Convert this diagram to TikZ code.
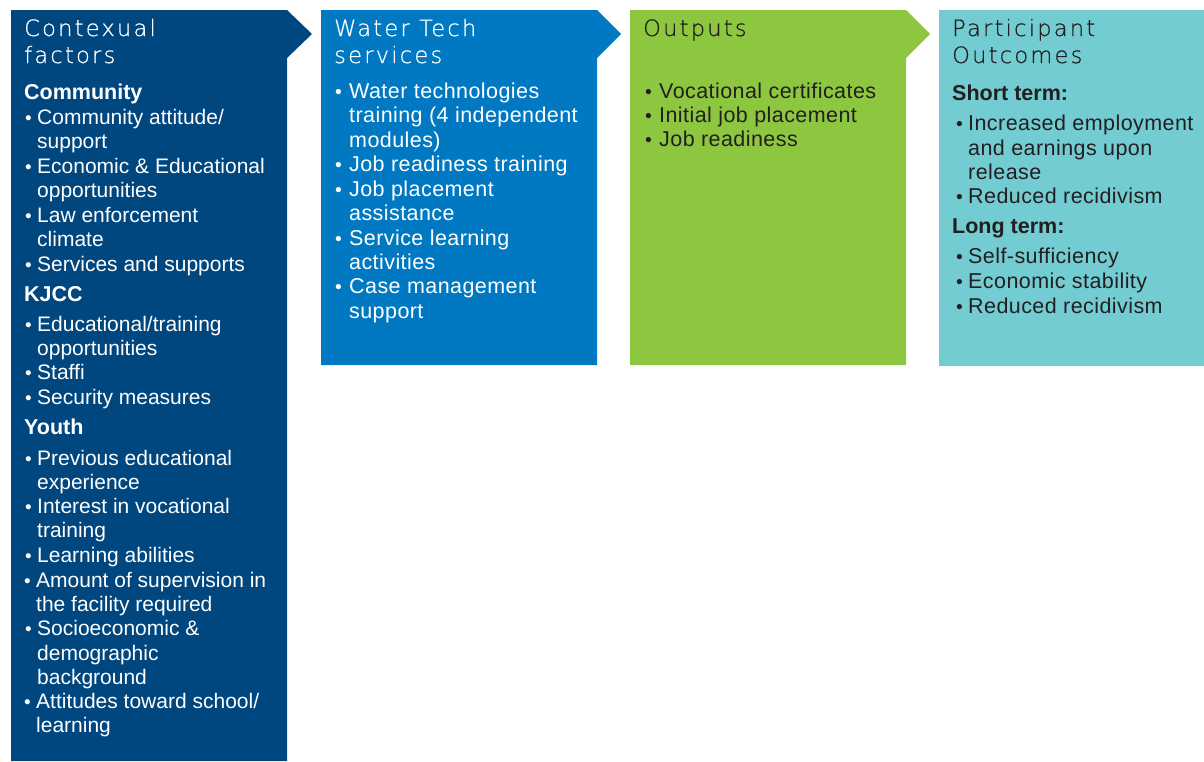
\documentclass[tikz,border=0pt]{standalone}
\usepackage{fontspec}
\setmainfont{Liberation Sans}
\newfontfamily\widefont[LetterSpace=2]{Liberation Sans}
\newfontfamily\hdrfont[LetterSpace=10,FakeBold=0.6]{DejaVu Sans ExtraLight}
\definecolor{navy}{HTML}{00467F}
\definecolor{wblue}{HTML}{0079C2}
\definecolor{lgreen}{HTML}{8DC63F}
\definecolor{teal}{HTML}{72CCD2}
\definecolor{dtext}{HTML}{231F20}
\tikzset{
  hdr/.style={anchor=base west, inner sep=0pt, font=\hdrfont\fontsize{22.5}{25}\selectfont},
  body/.style={anchor=base west, inner sep=0pt, font=\fontsize{21}{25}\selectfont},
  sub/.style={anchor=base west, inner sep=0pt, font=\bfseries\fontsize{21.5}{25}\selectfont},
  wide/.style={body/.style={anchor=base west, inner sep=0pt, font=\widefont\fontsize{21.5}{25}\selectfont}},
}
\newcommand\Li[4]{\node[body] (#1) at (#2,#3) {#4};}
\newcommand\Bu[5]{\node[body] (#1b) at (#2,#4) {\scalebox{0.9}{\textbullet}}; \node[body] (#1) at (#3,#4) {#5};}
\begin{document}
\begin{tikzpicture}[x=1pt,y=-1pt]
\useasboundingbox (0,0) rectangle (1204,761);
% shapes
\fill[navy]   (11,10) -- (287,10) -- (312,34) -- (287,58) -- (287,761) -- (11,761) -- cycle;
\fill[wblue]  (321,10) -- (597,10) -- (621,34) -- (597,58) -- (597,365) -- (321,365) -- cycle;
\fill[lgreen] (630,10) -- (906,10) -- (930,34) -- (906,58) -- (906,365) -- (630,365) -- cycle;
\fill[teal]   (939,10) -- (1204,10) -- (1204,366) -- (939,366) -- cycle;

% column 1
\begin{scope}[text=white]
\node[hdr] (h1a) at (24,36) {Contexual};
\node[hdr] (h1b) at (24,63) {factors};
\node[sub] (s1) at (24,99) {Community};
\Bu{a1}{25}{37}{124}{Community attitude/}
\Li{a1c}{37}{148}{support}
\Bu{a2}{25}{37}{173}{Economic \& Educational}
\Li{a2c}{37}{197}{opportunities}
\Bu{a3}{25}{37}{222}{Law enforcement}
\Li{a3c}{37}{246}{climate}
\Bu{a4}{25}{37}{271}{Services and supports}
\node[sub] (s2) at (24,301) {KJCC};
\Bu{a5}{25}{37}{331}{Educational/training}
\Li{a5c}{37}{355}{opportunities}
\Bu{a6}{25}{37}{379}{Staffi}
\Bu{a7}{25}{37}{404}{Security measures}
\node[sub] (s3) at (24,434) {Youth};
\Bu{a8}{25}{37}{465}{Previous educational}
\Li{a8c}{37}{489}{experience}
\Bu{a9}{25}{37}{513}{Interest in vocational}
\Li{a9c}{37}{537}{training}
\Bu{a10}{25}{37}{562}{Learning abilities}
\Bu{a11}{24}{36}{587}{Amount of supervision in}
\Li{a11c}{36}{611}{the facility required}
\Bu{a12}{25}{37}{635}{Socioeconomic \&}
\Li{a12c}{37}{660}{demographic}
\Li{a12d}{37}{684}{background}
\Bu{a13}{24}{36}{708}{Attitudes toward school/}
\Li{a13c}{36}{732}{learning}
\end{scope}

% column 2
\begin{scope}[text=white,wide]
\node[hdr] (h2a) at (334,36) {Water Tech};
\node[hdr] (h2b) at (334,63) {services};
\Bu{b1}{335}{349}{98}{Water technologies}
\Li{b1c}{349}{122}{training (4 independent}
\Li{b1d}{349}{147}{modules)}
\Bu{b2}{335}{349}{171}{Job readiness training}
\Bu{b3}{335}{349}{196}{Job placement}
\Li{b3c}{349}{220}{assistance}
\Bu{b4}{335}{349}{245}{Service learning}
\Li{b4c}{349}{269}{activities}
\Bu{b5}{335}{349}{293}{Case management}
\Li{b5c}{349}{318}{support}
\end{scope}

% column 3
\begin{scope}[text=dtext,wide]
\node[hdr] (h3a) at (643,36) {Outputs};
\Bu{c1}{645}{659}{98}{Vocational certificates}
\Bu{c2}{645}{659}{122}{Initial job placement}
\Bu{c3}{645}{659}{146}{Job readiness}
\end{scope}

% column 4
\begin{scope}[text=dtext,wide]
\node[hdr] (h4a) at (952,36) {Participant};
\node[hdr] (h4b) at (952,63) {Outcomes};
\node[sub] (t1) at (952,100) {Short term:};
\Bu{d1}{956}{968}{130}{Increased employment}
\Li{d1c}{968}{155}{and earnings upon}
\Li{d1d}{968}{179}{release}
\Bu{d2}{956}{968}{203}{Reduced recidivism}
\node[sub] (t2) at (952,233) {Long term:};
\Bu{d3}{956}{968}{263}{Self-sufficiency}
\Bu{d4}{956}{968}{288}{Economic stability}
\Bu{d5}{956}{968}{313}{Reduced recidivism}
\end{scope}
\end{tikzpicture}
\end{document}
